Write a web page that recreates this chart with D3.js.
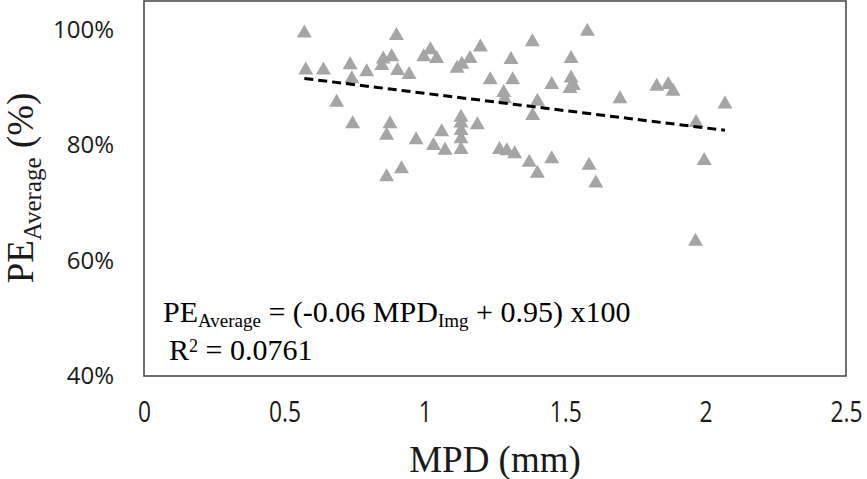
<!DOCTYPE html>
<html>
<head>
<meta charset="utf-8">
<script src="https://cdn.jsdelivr.net/npm/d3@7"></script>
<style>
  html, body { margin: 0; padding: 0; background: #fff; }
  svg { display: block; }
</style>
</head>
<body>
<svg id="chart" width="867" height="479"></svg>
<script>
// MPD (mm) values of each sample
const mpd = [
  0.571, 0.576, 0.639, 0.734, 0.740, 0.793, 0.686, 0.743, 0.899, 0.852,
  0.847, 0.882, 0.903, 0.944, 0.876, 0.864, 0.864, 0.917, 0.969, 0.996,
  1.020, 1.042, 1.031, 1.060, 1.072, 1.115, 1.132, 1.161, 1.198, 1.129,
  1.129, 1.129, 1.129, 1.129, 1.187, 1.233, 1.307, 1.313, 1.281, 1.284,
  1.266, 1.292, 1.320, 1.383, 1.401, 1.384, 1.372, 1.401, 1.452, 1.452,
  1.521, 1.521, 1.529, 1.517, 1.579, 1.695, 1.826, 1.867, 1.884, 2.069,
  1.966, 1.585, 1.609, 1.995, 1.964
];
// PE Average (fraction) of each sample
const peAverage = [
  0.997, 0.933, 0.933, 0.942, 0.918, 0.930, 0.877, 0.840, 0.993, 0.952,
  0.941, 0.956, 0.932, 0.925, 0.840, 0.820, 0.748, 0.762, 0.812, 0.956,
  0.968, 0.953, 0.802, 0.826, 0.794, 0.936, 0.943, 0.953, 0.973, 0.851,
  0.841, 0.828, 0.814, 0.795, 0.838, 0.916, 0.951, 0.916, 0.894, 0.883,
  0.795, 0.793, 0.788, 0.982, 0.879, 0.854, 0.773, 0.754, 0.908, 0.779,
  0.953, 0.919, 0.906, 0.901, 1.000, 0.883, 0.905, 0.908, 0.896, 0.874,
  0.842, 0.768, 0.737, 0.776, 0.636
];
// Linear trend line coefficients (from the equation shown)
const trendSlope = -0.06;
const trendIntercept = 0.95;

const xTicks = [0, 0.5, 1, 1.5, 2, 2.5];
const xTickLabels = ["0", "0.5", "1", "1.5", "2", "2.5"];
const yTicks = [0.4, 0.6, 0.8, 1.0];
const yTickLabels = ["40%", "60%", "80%", "100%"];

const svg = d3.select("#chart");
const plot = { left: 144, right: 846, top: 1, bottom: 376 };

const x = d3.scaleLinear().domain([0, 2.5]).range([plot.left, plot.right]);
const y = d3.scaleLinear().domain([0.4, 1.05]).range([plot.bottom, plot.top]);

// plot box
svg.append("rect")
  .attr("x", plot.left).attr("y", plot.top)
  .attr("width", plot.right - plot.left).attr("height", plot.bottom - plot.top)
  .attr("fill", "#fff").attr("stroke", "#4d4d4d").attr("stroke-width", 1.6);

// y axis
const yAxis = svg.append("g")
  .attr("transform", `translate(${plot.left},0)`)
  .call(d3.axisLeft(y).tickValues(yTicks).tickSize(0).tickPadding(30)
    .tickFormat((d, i) => yTickLabels[i]));
yAxis.select(".domain").remove();
yAxis.selectAll("text")
  .attr("font-family", "'Open Sans', sans-serif")
  .attr("font-size", 24)
  .attr("fill", "#1a1a1a");

// x axis
const xAxis = svg.append("g")
  .attr("transform", `translate(0,${plot.bottom})`)
  .call(d3.axisBottom(x).tickValues(xTicks).tickSize(0)
    .tickFormat((d, i) => xTickLabels[i]));
xAxis.select(".domain").remove();
xAxis.selectAll("text")
  .attr("y", 36).attr("dy", "0.35em")
  .attr("transform", "scale(0.76,1)")
  .attr("font-family", "'Open Sans', sans-serif")
  .attr("font-size", 30)
  .attr("fill", "#1a1a1a");

// points (triangles)
const tri = "M0,-7L7.5,6L-7.5,6Z";
svg.append("g").selectAll("path")
  .data(mpd.map((m, i) => ({ m, p: peAverage[i] })))
  .join("path")
  .attr("d", tri)
  .attr("transform", d => `translate(${x(d.m)},${y(d.p)})`)
  .attr("fill", "#a5a5a5");

// trend line
const xMin = d3.min(mpd), xMax = d3.max(mpd);
svg.append("line")
  .attr("x1", x(xMin)).attr("y1", y(trendSlope * xMin + trendIntercept))
  .attr("x2", x(xMax)).attr("y2", y(trendSlope * xMax + trendIntercept))
  .attr("stroke", "#000").attr("stroke-width", 3)
  .attr("stroke-dasharray", "9,5");

// equation text
const eq = svg.append("text")
  .attr("x", 163).attr("y", 322)
  .attr("font-family", "'Liberation Serif', 'Times New Roman', serif")
  .attr("font-size", 30).attr("fill", "#000");
eq.append("tspan").text("PE");
eq.append("tspan").attr("font-size", 19).attr("dy", 5).text("Average");
eq.append("tspan").attr("dy", -5).text(" = (-0.06 MPD");
eq.append("tspan").attr("font-size", 19).attr("dy", 5).text("Img");
eq.append("tspan").attr("dy", -5).text(" + 0.95) x100");

const r2 = svg.append("text")
  .attr("x", 169).attr("y", 360)
  .attr("font-family", "'Liberation Serif', 'Times New Roman', serif")
  .attr("font-size", 30).attr("fill", "#000");
r2.append("tspan").text("R");
r2.append("tspan").attr("font-size", 18).attr("dy", -8).text("2");
r2.append("tspan").attr("dy", 8).text(" = 0.0761");

// x axis title
svg.append("text")
  .attr("x", x(1.25)).attr("y", 472)
  .attr("text-anchor", "middle")
  .attr("font-family", "'Liberation Serif', 'Times New Roman', serif")
  .attr("font-size", 37).attr("fill", "#1a1a1a")
  .text("MPD (mm)");

// y axis title
const yt = svg.append("text")
  .attr("transform", "translate(33,188) rotate(-90)")
  .attr("text-anchor", "middle")
  .attr("font-family", "'Liberation Serif', 'Times New Roman', serif")
  .attr("font-size", 37).attr("fill", "#1a1a1a");
yt.append("tspan").text("PE");
yt.append("tspan").attr("font-size", 25).attr("dy", 8).text("Average");
yt.append("tspan").attr("dy", -8).text(" (%)");
</script>
</body>
</html>
